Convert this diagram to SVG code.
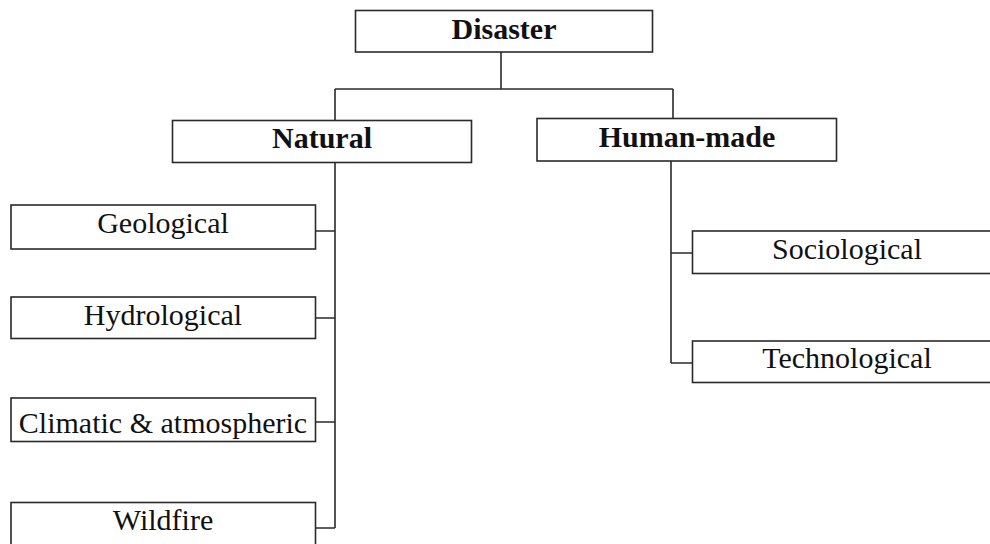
<svg xmlns="http://www.w3.org/2000/svg" width="990" height="544" viewBox="0 0 990 544">
<style>
rect.box{fill:#fff;stroke:#2a2a2a;stroke-width:1.6}
text{font-family:"Liberation Serif","Times New Roman",serif;font-size:30px;fill:#111;text-anchor:middle}
text.b{font-weight:bold}
#connectors path{fill:none;stroke:#2a2a2a;stroke-width:1.6}
</style>
<rect width="990" height="544" fill="#fff"/>
<g id="connectors">
<path d="M501 52V89M335 89H673M335 89V120M673 89V118"/>
<path d="M335 163V528M316 231H335M316 318H335M316 422H335M316 528H335"/>
<path d="M671 161V363M671 253H692M671 363H692"/>
</g>
<g id="disaster"><rect class="box" x="355.5" y="10.5" width="297" height="41.5"/><text class="b" x="504" y="39">Disaster</text></g>
<g id="natural"><rect class="box" x="172.5" y="120.5" width="299" height="42"/><text class="b" x="322" y="147.5">Natural</text></g>
<g id="human-made"><rect class="box" x="537" y="118.5" width="299.5" height="42.5"/><text class="b" x="687" y="147">Human-made</text></g>
<g id="geological"><rect class="box" x="11" y="205" width="304.5" height="44"/><text x="163" y="233">Geological</text></g>
<g id="hydrological"><rect class="box" x="11" y="297" width="304.5" height="41.5"/><text x="163" y="325">Hydrological</text></g>
<g id="climatic"><rect class="box" x="11" y="398" width="304.5" height="43.5"/><text x="163" y="433">Climatic &amp; atmospheric</text></g>
<g id="wildfire"><rect class="box" x="11" y="502.5" width="304.5" height="50"/><text x="163" y="530">Wildfire</text></g>
<g id="sociological"><rect class="box" x="692.5" y="231" width="320" height="42.5"/><text x="847" y="259">Sociological</text></g>
<g id="technological"><rect class="box" x="692.5" y="341" width="320" height="41.5"/><text x="847" y="368">Technological</text></g>
</svg>
